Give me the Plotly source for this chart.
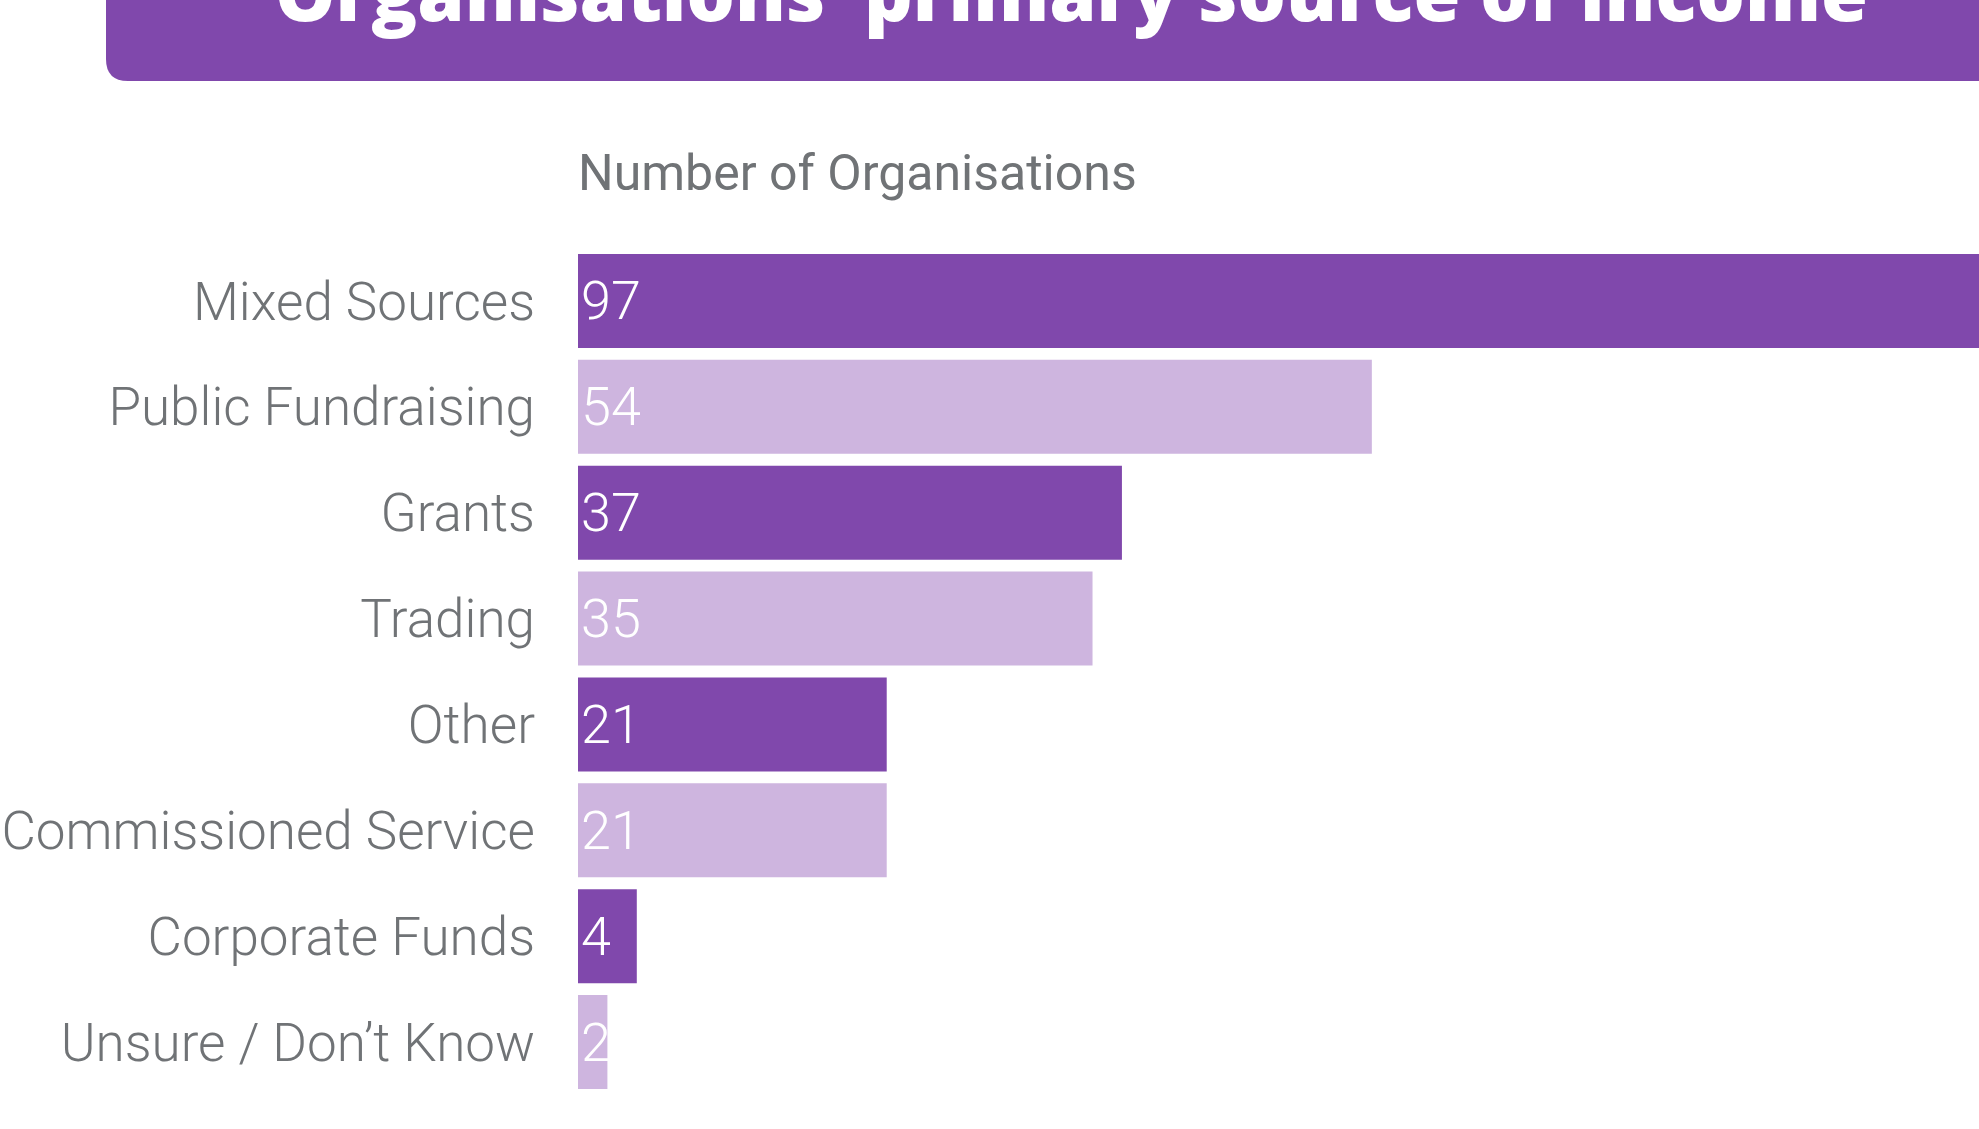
import plotly.graph_objects as go

# ---- data ----
categories = ["Mixed Sources", "Public Fundraising", "Grants", "Trading", "Other",
              "Commissioned Service", "Corporate Funds", "Unsure / Don\u2019t Know"]
counts = [97, 54, 37, 35, 21, 21, 4, 2]
title_text = "Organisations\u2019 primary source of income"
axis_title = "Number of Organisations"

# ---- style ----
W, H = 1979, 1129
ML, MR, MT, MB = 578, 0, 248, 34
DARK = "#8048AC"
LIGHT = "#CEB5DF"
GREY = "#707376"
bar_colors = [DARK if i % 2 == 0 else LIGHT for i in range(len(categories))]
AXIS_MIN, AXIS_MAX = 0, 95.3

def px_x(px):
    return (px - ML) / (W - ML - MR)

def px_y(py):
    return (H - MB - py) / (H - MT - MB)

fig = go.Figure(go.Bar(
    x=counts, y=categories, orientation="h",
    marker=dict(color=bar_colors, line=dict(width=0)),
    text=[str(c) for c in counts],
    texttemplate="%{text}",
    textposition="inside", insidetextanchor="start",
    constraintext="none",
    textfont=dict(family="Roboto", size=54, color="white", weight=300),
    hoverinfo="skip",
    cliponaxis=True,
))

# rounded title banner (decoration)
x0, x1 = px_x(106), px_x(2150)
yt, yb = px_y(-60), px_y(81)
r_x = 22 / (W - ML - MR)
r_y = 22 / (H - MT - MB)
path = (f"M {x0},{yt} L {x0},{yb + r_y} Q {x0},{yb} {x0 + r_x},{yb} "
        f"L {x1},{yb} L {x1},{yt} Z")

fig.update_layout(
    width=W, height=H,
    margin=dict(l=ML, r=MR, t=MT, b=MB, pad=0),
    paper_bgcolor="white", plot_bgcolor="white",
    bargap=0.112,
    showlegend=False,
    xaxis=dict(range=[AXIS_MIN, AXIS_MAX], visible=False, fixedrange=True),
    yaxis=dict(autorange="reversed", showgrid=False, zeroline=False, showline=False,
               ticks="", ticklabelstandoff=42, fixedrange=True,
               tickfont=dict(family="Roboto", size=53, color=GREY, weight=300)),
    shapes=[dict(type="path", xref="paper", yref="paper", path=path,
                 fillcolor=DARK, line=dict(width=0), layer="above")],
    annotations=[
        dict(text=title_text, xref="paper", yref="paper",
             x=px_x(1071), y=px_y(24), xanchor="center", yanchor="bottom",
             showarrow=False, yshift=-21,
             font=dict(family="Open Sans", size=76, color="white", weight=800)),
        dict(text=axis_title, xref="paper", yref="paper",
             x=0, y=px_y(173), xanchor="left", yanchor="middle",
             showarrow=False, xshift=-2,
             font=dict(family="Roboto", size=50, color=GREY, weight=400)),
    ],
)

fig.write_html("out.html", config={"displayModeBar": False},
               post_script="document.body.style.margin='0';")
